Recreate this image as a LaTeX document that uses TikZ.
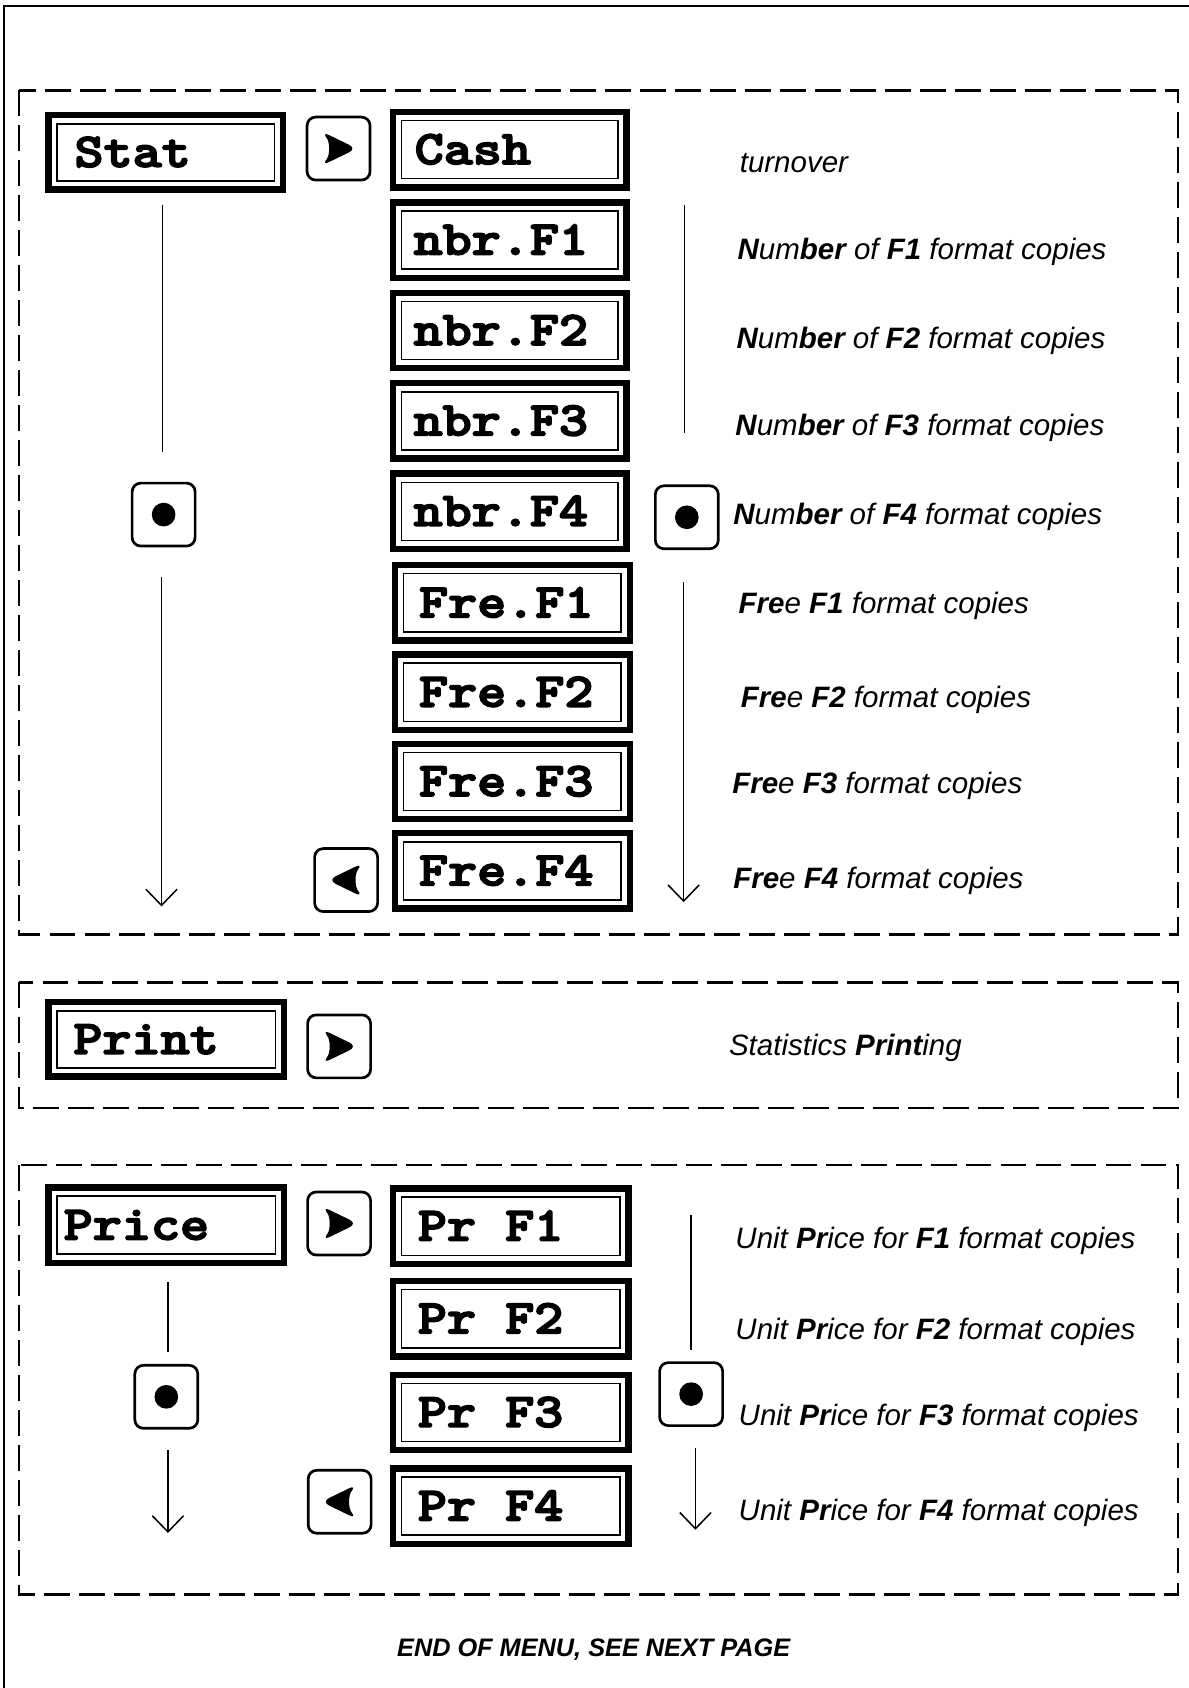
\documentclass[tikz,border=0pt]{standalone}
\usepackage{fontspec}
\setmainfont{Liberation Sans}
\usetikzlibrary{arrows.meta}
\newcommand\boxfont{\ttfamily\bfseries\fontsize{45}{50}\selectfont}
\newcommand\heavy[1]{\special{pdf:literal 2 Tr 1.4 w}#1\special{pdf:literal 0 Tr}}
\newcommand\descfont{\fontsize{27.4}{32}\selectfont\itshape}
\newcommand\hl[1]{\textbf{#1}}
\tikzset{
  dbox/.style={draw, line width=6pt, inner sep=0pt, outer sep=0pt,
    path picture={\draw[line width=1.3pt]
      ([shift={(8pt,8pt)}]path picture bounding box.south west) rectangle
      ([shift={(-8pt,-8pt)}]path picture bounding box.north east);}},
  btn/.style={draw, line width=2.5pt, rounded corners=8pt, minimum size=58.5pt, inner sep=0pt},
  dotbtn/.style={btn, path picture={\fill (path picture bounding box.center) circle (11pt);}},
  rbtn/.style={btn, path picture={\fill[shift={(path picture bounding box.center)}]
      (17pt,0pt) -- (-16pt,16pt) .. controls (-8pt,6pt) and (-8pt,-6pt) .. (-16pt,-16pt) -- cycle;}},
  lbtn/.style={btn, path picture={\fill[shift={(path picture bounding box.center)}]
      (-17pt,0pt) -- (16pt,16pt) .. controls (8pt,6pt) and (8pt,-6pt) .. (16pt,-16pt) -- cycle;}},
  boxlabel/.style={font=\boxfont, inner sep=0pt, anchor=base west, xscale=1.143},
  desc/.style={font=\descfont, inner sep=0pt, anchor=base west},
  conn/.style={line width=1.4pt},
  arr/.style={conn, -{Straight Barb[length=15pt,width=29pt]}},
  dashbox/.style={line width=2.3pt, dash pattern=on 24pt off 8.5pt},
}
\newcommand\menubox[7]{%
  \node[dbox, minimum width={#4-#2-6}, minimum height={#5-#3-6}] (#1) at ({(#2+#4)/2},{(#3+#5)/2}) {};
  \node[boxlabel] (#1-t) at (#6,{(#3+#5)/2+13.5}) {\heavy{#7}};
}
\begin{document}
\begin{tikzpicture}[x=1pt,y=-1pt]
\useasboundingbox (0,0) rectangle (1104,1568);
% outer frame (only top and left visible)
\draw[line width=2pt] (3.7,1568) -- (3.7,5.6) -- (1104,5.6);
% dashed groups
\draw[dashbox] (17.5,84) rectangle (1094,868);
\draw[dashbox] (17.5,912.5) rectangle (1094,1029);
\draw[dashbox] (17.5,1082) rectangle (1094,1481);

% ---- Stat section
\menubox{stat}{42}{104}{266}{179}{69}{Stat}
\node[rbtn] (statgo) at (314.5,138) {};
\menubox{cash}{362}{101}{585}{177}{385}{Cash}
\menubox{nf1}{362}{185}{585}{261}{384}{nbr.F1}
\menubox{nf2}{362}{269}{585}{345}{384}{nbr.F2}
\menubox{nf3}{362}{353}{585}{429}{384}{nbr.F3}
\menubox{nf4}{362}{437}{585}{513}{384}{nbr.F4}
\menubox{ff1}{364}{522}{588}{598}{389}{Fre.F1}
\menubox{ff2}{364}{605}{588}{681}{389}{Fre.F2}
\menubox{ff3}{364}{688}{588}{764}{389}{Fre.F3}
\menubox{ff4}{364}{771}{588}{847}{389}{Fre.F4}
\node[lbtn] (statback) at (321.5,817.5) {};

\coordinate (sl1) at (151,190); \coordinate (sl2) at (151,420);
\draw[conn] (sl1) -- (sl2);
\node[dotbtn] (statdot) at (152,478) {};
\coordinate (sl3) at (150,536); \coordinate (sl4) at (150,842);
\draw[arr] (sl3) -- (sl4);

\coordinate (sr1) at (636,190); \coordinate (sr2) at (636,402);
\draw[conn] (sr1) -- (sr2);
\node[dotbtn] (nbrdot) at (638,480.5) {};
\coordinate (sr3) at (635,541); \coordinate (sr4) at (635,838);
\draw[arr] (sr3) -- (sr4);

\node[desc] (dcash) at (687,160) {turnover};
\node[desc] (dn1) at (685,241) {\hl{N}um\hl{ber} of \hl{F1} format copies};
\node[desc] (dn2) at (684,324) {\hl{N}um\hl{ber} of \hl{F2} format copies};
\node[desc] (dn3) at (683,405) {\hl{N}um\hl{ber} of \hl{F3} format copies};
\node[desc] (dn4) at (681,487) {\hl{N}um\hl{ber} of \hl{F4} format copies};
\node[desc] (df1) at (686,570) {\hl{Fre}e \hl{F1} format copies};
\node[desc] (df2) at (688,657) {\hl{Fre}e \hl{F2} format copies};
\node[desc] (df3) at (680,737) {\hl{Fre}e \hl{F3} format copies};
\node[desc] (df4) at (681,825) {\hl{Fre}e \hl{F4} format copies};

% ---- Print section
\menubox{print}{42}{928}{267}{1003}{68}{Print}
\node[rbtn] (printgo) at (315,972) {};
\node[desc] (dprint) at (677,980) {Statistics \hl{Print}ing};

% ---- Price section
\menubox{price}{42}{1100}{267}{1176}{59}{Price}
\node[rbtn] (pricego) at (315,1136.5) {};
\menubox{p1}{362}{1101}{587}{1177}{388}{Pr F1}
\menubox{p2}{362}{1187}{587}{1263}{388}{Pr F2}
\menubox{p3}{362}{1274}{587}{1350}{388}{Pr F3}
\menubox{p4}{362}{1361}{587}{1437}{388}{Pr F4}
\node[lbtn] (priceback) at (315.5,1395) {};

\coordinate (pl1) at (156,1191); \coordinate (pl2) at (156,1256);
\draw[conn] (pl1) -- (pl2);
\node[dotbtn] (pricedot) at (154.5,1297.5) {};
\coordinate (pl3) at (156,1347); \coordinate (pl4) at (156,1424);
\draw[arr] (pl3) -- (pl4);

\coordinate (pr1) at (642,1129); \coordinate (pr2) at (642,1254);
\draw[conn] (pr1) -- (pr2);
\node[dotbtn] (prdot) at (642,1295) {};
\coordinate (pr3) at (646,1345); \coordinate (pr4) at (646,1421);
\draw[arr] (pr3) -- (pr4);

\node[desc] (dp1) at (683,1160) {Unit \hl{Pr}ice for \hl{F1} format copies};
\node[desc] (dp2) at (683,1244) {Unit \hl{Pr}ice for \hl{F2} format copies};
\node[desc] (dp3) at (686,1324) {Unit \hl{Pr}ice for \hl{F3} format copies};
\node[desc] (dp4) at (686,1412) {Unit \hl{Pr}ice for \hl{F4} format copies};

% ---- footer
\node[font=\fontsize{23.5}{28}\selectfont\bfseries\itshape, inner sep=0pt, anchor=base] (endnote) at (551.5,1539) {END OF MENU, SEE NEXT PAGE};
\end{tikzpicture}
\end{document}
